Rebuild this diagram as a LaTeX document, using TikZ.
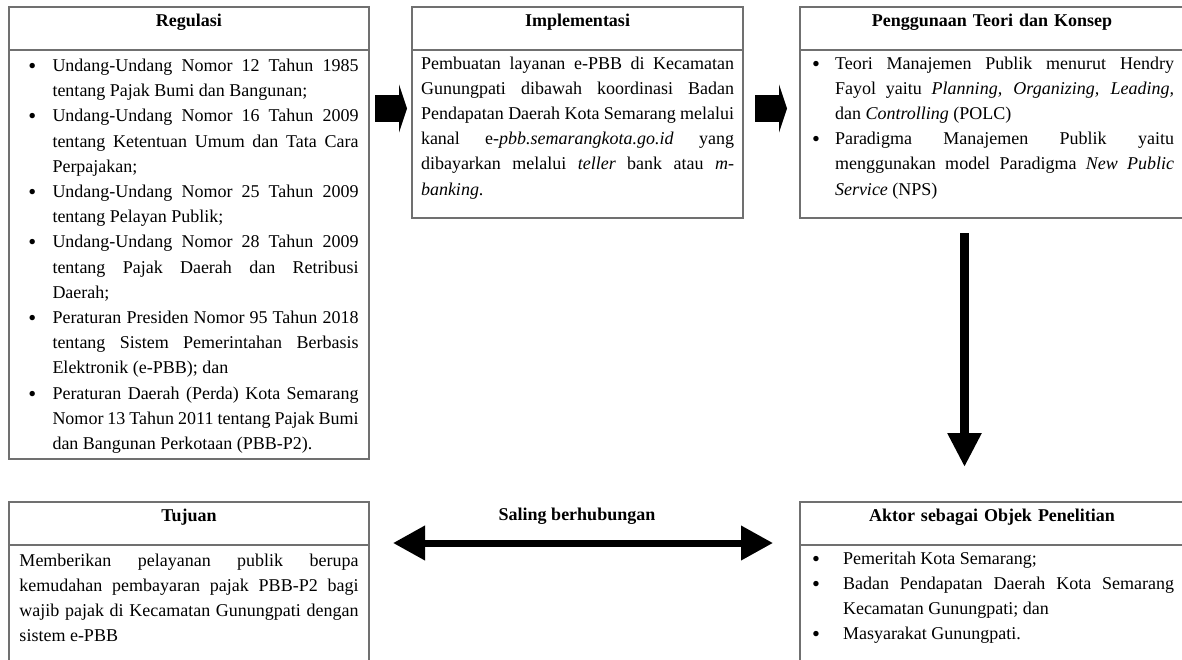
\documentclass[tikz,border=0pt]{standalone}
\usepackage{fontspec}
\setmainfont{Liberation Serif}
\usepackage{xcolor}
\usepackage{tikz}
\usetikzlibrary{arrows.meta,positioning}

\definecolor{garis}{HTML}{707070}
\hyphenpenalty=10000
\exhyphenpenalty=10000

\newlength{\poinindent}
\newlength{\poinoffset}
\newcommand{\poin}{\noindent\hangindent=\poinindent\hangafter=1\makebox[\poinindent][l]{\hspace{\poinoffset}\raisebox{-2pt}{\scalebox{1.25}{\textbullet}}}\ignorespaces}

\tikzset{
	kotak/.style={draw=garis, line width=1.5pt, outer sep=0pt, inner ysep=0pt, anchor=north west, font=\fontsize{18}{25.2}\selectfont},
	judul/.style={kotak, align=center, font=\fontsize{18}{25.2}\selectfont\bfseries, text height=19pt, text depth=24pt},
	isi/.style={kotak, anchor=north, align=justify},
	blok/.style={line width=27pt, -{Triangle[length=8pt,width=48pt]}},
	ganda/.style={line width=7pt, {Triangle[length=32pt,width=33pt]}-{Triangle[length=32pt,width=33pt]}},
	turun/.style={line width=9pt, -{Triangle[length=34pt,width=32pt]}},
}

\begin{document}
\begin{tikzpicture}[x=1pt,y=-1pt]
	\useasboundingbox (0,0) rectangle (1182,659);
	\clip (0,0) rectangle (1182,659);
	\fill[white] (0,0) rectangle (1182,659);

	% baris atas
	\node[judul, text width=340pt, inner xsep=10pt] (regjudul) at (9,7) {Regulasi};
	\node[isi, text width=339pt, inner xsep=10.5pt, text height=21.5pt, text depth=387.5pt] (regisi) at (regjudul.south) {%
		\setlength{\poinindent}{33pt}\setlength{\poinoffset}{9pt}%
		\poin Undang-Undang Nomor 12 Tahun 1985\linebreak tentang Pajak Bumi dan Bangunan;\par
		\poin Undang-Undang Nomor 16 Tahun 2009\linebreak tentang Ketentuan Umum dan Tata Cara\linebreak Perpajakan;\par
		\poin Undang-Undang Nomor 25 Tahun 2009\linebreak tentang Pelayan Publik;\par
		\poin Undang-Undang Nomor 28 Tahun 2009\linebreak tentang Pajak Daerah dan Retribusi\linebreak Daerah;\par
		\poin Peraturan Presiden Nomor 95 Tahun 2018\linebreak tentang Sistem Pemerintahan Berbasis\linebreak Elektronik (e-PBB); dan\par
		\poin Peraturan Daerah (Perda) Kota Semarang\linebreak Nomor 13 Tahun 2011 tentang Pajak Bumi\linebreak dan Bangunan Perkotaan (PBB-P2).\par};

	\node[judul, text width=313pt, inner xsep=9pt] (impljudul) at (412,7) {Implementasi};
	\node[isi, text width=313pt, inner xsep=9pt, text height=19pt, text depth=149pt] (implisi) at (impljudul.south) {%
		Pembuatan layanan e-PBB di Kecamatan\linebreak Gunungpati dibawah koordinasi Badan\linebreak Pendapatan Daerah Kota Semarang melalui\linebreak kanal e-\textit{pbb.semarangkota.go.id} yang\linebreak dibayarkan melalui \textit{teller} bank atau \textit{m-}\linebreak\textit{banking}.};

	\node[judul, text width=364pt, inner xsep=10pt] (pengjudul) at (800,7) {Penggunaan Teori dan Konsep};
	\node[isi, text width=364pt, inner xsep=10pt, text height=19pt, text depth=149pt] (pengisi) at (pengjudul.south) {%
		\setlength{\poinindent}{25pt}\setlength{\poinoffset}{2pt}%
		\poin Teori Manajemen Publik menurut Hendry\linebreak Fayol yaitu \textit{Planning, Organizing, Leading,}\linebreak dan \textit{Controlling} (POLC)\par
		\poin Paradigma Manajemen Publik yaitu\linebreak menggunakan model Paradigma \textit{New Public}\linebreak \textit{Service} (NPS)\par};

	% baris bawah
	\node[judul, text width=340pt, inner xsep=10pt] (tujjudul) at (9,502) {Tujuan};
	\node[isi, text width=339pt, inner xsep=10.5pt, text height=21pt, text depth=150pt] (tujisi) at (tujjudul.south) {%
		Memberikan pelayanan publik berupa\linebreak kemudahan pembayaran pajak PBB-P2 bagi\linebreak wajib pajak di Kecamatan Gunungpati dengan\linebreak sistem e-PBB};

	\node[judul, text width=364pt, inner xsep=10pt] (aktjudul) at (800,502) {Aktor sebagai Objek Penelitian};
	\node[isi, text width=364pt, inner xsep=10pt, text height=19pt, text depth=150pt] (aktisi) at (aktjudul.south) {%
		\setlength{\poinindent}{33pt}\setlength{\poinoffset}{2pt}%
		\poin Pemeritah Kota Semarang;\par
		\poin Badan Pendapatan Daerah Kota Semarang\linebreak Kecamatan Gunungpati; dan\par
		\poin Masyarakat Gunungpati.\par};

	\node[font=\fontsize{18}{25.2}\selectfont\bfseries, anchor=base] (hubungan) at (577,520) {Saling berhubungan};

	% panah
	\coordinate (tinggi) at (0,108.5);
	\coordinate (sumbu) at (964.5,0);
	\draw[blok, shorten <=6pt, shorten >=5pt] (regisi.east |- tinggi) -- (implisi.west |- tinggi);
	\draw[blok, shorten <=12pt, shorten >=13pt] (implisi.east |- tinggi) -- (pengisi.west |- tinggi);
	\draw[turun, shorten <=15pt, shorten >=35pt] (pengisi.south -| sumbu) -- (aktjudul.north -| sumbu);
	\draw[ganda, shorten <=24pt, shorten >=27pt] ([yshift=2pt]tujjudul.south east) -- ([yshift=2pt]aktjudul.south west);
\end{tikzpicture}
\end{document}
